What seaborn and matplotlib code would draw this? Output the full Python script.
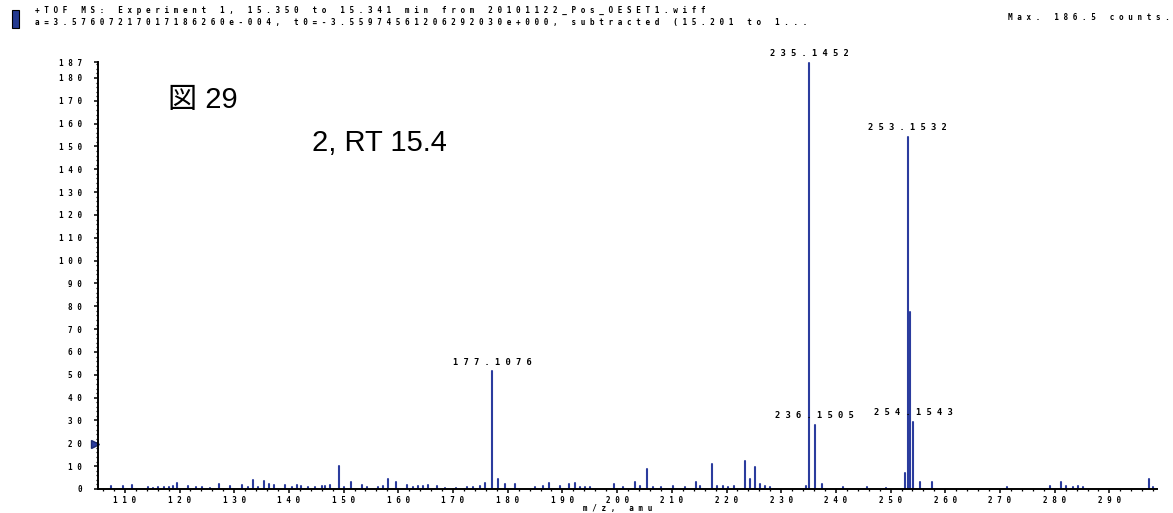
import numpy as np
import pandas as pd
import matplotlib
matplotlib.use("Agg")
import matplotlib.pyplot as plt
import matplotlib.transforms as mtransforms
from matplotlib.patches import Rectangle
from matplotlib.ticker import MultipleLocator
import seaborn as sns

# small peaks (m/z, counts)
small_mz = [107.5, 109.6, 111.3, 114.3, 115.2, 116.1, 117.1, 118.0, 118.8, 119.5,
            121.5, 123.1, 124.1, 125.6, 127.2, 129.2, 131.4, 132.5, 133.5, 134.4,
            135.5, 136.4, 137.3, 139.3, 140.5, 141.4, 142.3, 143.5, 144.7, 146.0,
            146.6, 147.5, 149.2, 150.1, 151.3, 153.3, 154.2, 156.2, 157.2, 158.2,
            159.5, 161.5, 162.7, 163.6, 164.5, 165.4, 167.1, 168.5, 170.6, 172.5,
            173.7, 174.9, 175.8, 178.2, 179.5, 181.3, 185.0, 186.5, 187.6, 189.5,
            191.2, 192.3, 193.2, 194.1, 195.0, 199.5, 201.1, 203.3, 204.1, 205.4,
            206.6, 208.1, 210.2, 212.4, 214.4, 215.1, 217.4, 218.3, 219.3, 220.3,
            221.3, 223.4, 224.3, 225.2, 226.1, 227.0, 227.9, 234.6, 237.5, 241.3,
            245.6, 249.2, 252.65, 253.6, 255.3, 257.5, 271.2, 279.2, 281.1, 282.0,
            283.4, 284.3, 285.2, 297.3, 298.0]
small_counts = [1.5, 1.2, 1.8, 0.8, 0.6, 0.8, 0.9, 1.0, 1.3, 2.8,
                1.5, 0.8, 0.7, 0.6, 2.0, 1.5, 1.8, 1.0, 4.1, 0.8,
                3.3, 2.0, 1.8, 1.6, 1.0, 1.7, 1.5, 0.8, 0.8, 1.2,
                1.5, 1.8, 10.0, 1.0, 3.0, 1.8, 0.8, 1.0, 1.5, 4.5,
                3.0, 1.8, 1.0, 1.5, 1.5, 1.8, 1.2, 0.6, 0.6, 0.8,
                1.0, 1.5, 2.5, 4.4, 2.0, 2.0, 1.0, 1.5, 2.5, 1.5,
                2.0, 2.5, 1.0, 1.0, 0.8, 2.0, 1.0, 3.2, 1.5, 8.8,
                1.0, 0.8, 1.5, 1.0, 3.0, 1.5, 11.0, 1.5, 1.2, 1.0,
                1.2, 12.4, 4.4, 9.5, 2.0, 1.5, 1.0, 1.5, 2.0, 0.8,
                0.8, 0.6, 7.0, 77.5, 2.9, 3.0, 0.8, 1.5, 3.0, 1.5,
                1.0, 1.5, 0.8, 4.4, 1.0]

# labelled peaks
label_mz = [177.1076, 235.1452, 236.1505, 253.1532, 254.1543]
label_counts = [51.5, 186.5, 28.0, 154.0, 29.3]

threshold = 19.5
x_ticks = list(range(110, 291, 10))
y_ticks = list(range(0, 181, 10)) + [187]
x_range = (105.1, 298.7)

header_1 = "+TOF MS: Experiment 1, 15.350 to 15.341 min from 20101122_Pos_OESET1.wiff"
header_2 = "a=3.57607217017186260e-004, t0=-3.55974561206292030e+000, subtracted (15.201 to 1..."
max_text = "Max. 186.5 counts."
fig_label = "図 29"
sample_label = "2, RT 15.4"
x_label = "m/z, amu"

BLUE = "#2b3c9e"
W, H = 1173, 513
MONO = dict(family="DejaVu Sans Mono", fontweight="bold", fontsize=5.5, color="black")


def spaced(s):
    return " ".join(s)


def fx(x):
    return x / W


def fy(y):
    return 1 - y / H


mz = small_mz + label_mz
counts = small_counts + label_counts
rows = []
for i, (m, c) in enumerate(zip(mz, counts)):
    rows.append({"peak": i, "mz": m, "counts": 0.0})
    rows.append({"peak": i, "mz": m, "counts": c})
df = pd.DataFrame(rows)

sns.set_style("ticks")
plt.rcParams["font.family"] = ["Liberation Sans", "Noto Sans CJK JP", "DejaVu Sans"]

fig = plt.figure(figsize=(W / 100, H / 100), dpi=100)
ax = fig.add_axes([fx(98), fy(489), (1157 - 98) / W, (489 - 62) / H])

sns.lineplot(data=df, x="mz", y="counts", units="peak", estimator=None,
             sort=False, color=BLUE, lw=1.5, ax=ax, legend=False)

ax.set_xlim(*x_range)
ax.set_ylim(0, 187)
ax.set_xlabel("")
ax.set_ylabel("")
sns.despine(ax=ax)
for side in ["left", "bottom"]:
    ax.spines[side].set_linewidth(1.4)
    ax.spines[side].set_color("black")

ax.set_xticks(x_ticks)
ax.set_xticklabels([spaced(str(t)) for t in x_ticks], **MONO)
ax.set_yticks(y_ticks)
ax.set_yticklabels([spaced(str(t)) for t in y_ticks], **MONO)
ax.xaxis.set_minor_locator(MultipleLocator(2))
ax.yaxis.set_minor_locator(MultipleLocator(2))
ax.tick_params(which="major", direction="out", length=3, width=1.1, colors="black")
ax.tick_params(which="minor", direction="out", length=1.6, width=0.9, colors="black")
ax.tick_params(axis="x", which="major", pad=2.0)
ax.tick_params(axis="y", which="major", pad=8.5)

# peak annotations
for m, c in zip(label_mz, label_counts):
    ax.annotate(spaced(f"{m:.4f}"), xy=(m, c), xytext=(0, 3.5),
                textcoords="offset points", ha="center", va="bottom",
                family="DejaVu Sans Mono", fontweight="bold", fontsize=6.3,
                color="black", annotation_clip=False)

# threshold marker on the y axis
trans = mtransforms.blended_transform_factory(ax.transAxes, ax.transData)
trans = mtransforms.offset_copy(trans, fig=fig, x=-3, y=0, units="dots")
ax.plot([0], [threshold], marker=">", ms=6, color=BLUE, mec="#1a2a70",
        transform=trans, clip_on=False)

# header
fig.patches.append(Rectangle((fx(12), fy(28)), 7 / W, 18 / H, transform=fig.transFigure,
                             facecolor="#23398f", edgecolor="black", lw=0.8))
fig.text(fx(35), fy(10), spaced(header_1), ha="left", va="center", **MONO)
fig.text(fx(35), fy(23), spaced(header_2), ha="left", va="center", **MONO)
fig.text(fx(1170), fy(17), spaced(max_text), ha="right", va="center", **MONO)

fig.text(fx(168), fy(100), fig_label, ha="left", va="center", fontsize=21,
         color="black", family=["Liberation Sans", "Noto Sans CJK JP"])
fig.text(fx(312), fy(143), sample_label, ha="left", va="center", fontsize=21,
         color="black", family=["Liberation Sans", "Noto Sans CJK JP"])
fig.text(fx(618), fy(512.5), spaced(x_label), ha="center", va="bottom", **MONO)

fig.savefig("out.png", dpi=100)
